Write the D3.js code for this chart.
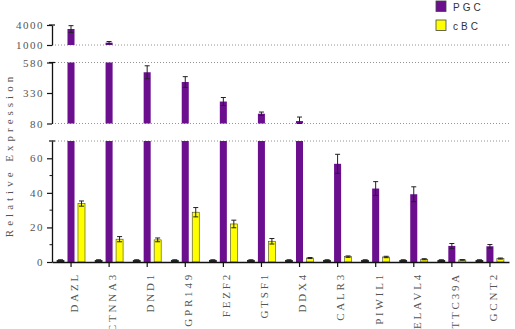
<!DOCTYPE html>
<html>
<head>
<meta charset="utf-8">
<script src="https://cdnjs.cloudflare.com/ajax/libs/d3/7.8.5/d3.min.js"></script>
<style>
  body { margin: 0; background: #fff; }
  svg { display: block; }
  .serif text, text.serif { font-family: "Liberation Serif", "Times New Roman", Times, serif; }
</style>
</head>
<body>
<svg id="chart" width="515" height="329"></svg>
<script>
// данные
const genes = ["DAZL", "CTNNA3", "DND1", "GPR149", "FEZF2", "GTSF1",
               "DDX4", "CALR3", "PIWIL1", "ELAVL4", "TTC39A", "GCNT2"];
const ctrl    = [1, 1, 1, 1, 1, 1, 1, 1, 1, 1, 1, 1];
const ctrlErr = [0.3, 0.3, 0.3, 0.3, 0.3, 0.3, 0.3, 0.3, 0.3, 0.3, 0.3, 0.3];
const pgc     = [3400, 1350, 500, 420, 260, 160, 100, 56.8, 42.5, 39.2, 9.3, 9.1];
const pgcErr  = [500, 170, 53, 44, 33, 14, 33, 5.5, 4, 4.3, 1.4, 1.0];
const cbc     = [33.8, 13.2, 12.8, 28.8, 22, 12, 2.3, 3.1, 2.9, 1.6, 1.2, 2.0];
const cbcErr  = [1.5, 1.5, 1.1, 2.7, 2.2, 1.6, 0.3, 0.4, 0.4, 0.3, 0.2, 0.3];
const seriesNames = ["ctrl", "PGC", "cBC"];
const legendNames = ["PGC", "cBC"];
const minorTicks = [10, 30, 50];

const colors = { ctrl: "#1d3a2c", PGC: "#6c0f8f", cBC: "#ffff00" };
const serif = "Liberation Serif";

const svg = d3.select("svg#chart");
const axisX0 = 52, axisX1 = 509;

// три сегмента оси Y (разрывы)
const segments = [
    { domain: [0, 70],      range: [262, 141],   ticks: [0, 20, 40, 60] },
    { domain: [80, 580],    range: [123.5, 62.5], ticks: [80, 330, 580] },
    { domain: [1000, 4000], range: [45, 25],      ticks: [1000, 4000] }
];
segments.forEach(s => s.scale = d3.scaleLinear().domain(s.domain).range(s.range));

function segFor(v) {
    for (let s of segments) if (v <= s.domain[1]) return s;
    return segments[segments.length - 1];
}

const scX = d3.scaleBand().domain(genes).range([axisX0, axisX1]).padding(0);
const scSub = d3.scaleBand().domain(seriesNames).range([5, 33]).paddingInner(0.33);

// пунктирные линии на границах сегментов
const dashY = [segments[0].range[1], segments[1].range[0], segments[1].range[1], segments[2].range[0]];
svg.selectAll(".dash")
    .data(dashY)
    .enter()
    .append("line")
    .attr("x1", axisX0).attr("x2", axisX1)
    .attr("y1", d => d).attr("y2", d => d)
    .style("stroke", "#777")
    .style("stroke-width", 0.8)
    .style("stroke-dasharray", "1,2");

// данные для столбцов
const rows = [];
genes.forEach((g, i) => {
    rows.push({ gene: g, key: "ctrl", v: ctrl[i], e: ctrlErr[i] });
    rows.push({ gene: g, key: "PGC", v: pgc[i], e: pgcErr[i] });
    rows.push({ gene: g, key: "cBC", v: cbc[i], e: cbcErr[i] });
});

const barG = svg.append("g");
segments.forEach((s, si) => {
    const lo = s.domain[0];
    const base = si === 0 ? 0 : lo;
    barG.selectAll(null)
        .data(rows.filter(d => d.v > lo || (si === 0 && d.v > 0)))
        .enter()
        .append("rect")
        .attr("x", d => scX(d.gene) + scSub(d.key))
        .attr("width", scSub.bandwidth())
        .attr("y", d => s.scale(Math.min(d.v, s.domain[1])))
        .attr("height", d => s.scale(base) - s.scale(Math.min(d.v, s.domain[1])))
        .style("fill", d => colors[d.key])
        .style("stroke", d => d.key === "cBC" ? "#444" : (d.key === "ctrl" ? "#111" : "none"))
        .style("stroke-width", 0.6);
});

// планки погрешностей
const errG = svg.append("g").style("stroke", "#222").style("stroke-width", 1);
rows.forEach(d => {
    const s = segFor(d.v);
    const cx = scX(d.gene) + scSub(d.key) + scSub.bandwidth() / 2;
    const y1 = s.scale(Math.min(d.v + d.e, s.domain[1] + (s.domain[1] - s.domain[0]) * 0.2));
    const y0 = s.scale(Math.max(d.v - d.e, s.domain[0]));
    const w = 2.5;
    errG.append("line").attr("x1", cx).attr("x2", cx).attr("y1", y0).attr("y2", y1);
    errG.append("line").attr("x1", cx - w).attr("x2", cx + w).attr("y1", y1).attr("y2", y1);
    errG.append("line").attr("x1", cx - w).attr("x2", cx + w).attr("y1", y0).attr("y2", y0);
});

// оси Y по сегментам
segments.forEach((s, si) => {
    const g = svg.append("g")
        .attr("class", "serif")
        .attr("transform", `translate(${axisX0},0)`)
        .call(d3.axisLeft(s.scale).tickValues(s.ticks).tickSize(5).tickSizeOuter(0)
              .tickFormat(d3.format("d")));
    g.attr("font-family", serif).attr("font-size", 11);
    g.select(".domain").style("stroke", "#111").style("stroke-width", 1.3);
    g.selectAll(".tick line").style("stroke", "#111").style("stroke-width", 1.2);
    g.selectAll(".tick text")
        .attr("x", -8)
        .style("letter-spacing", "1.5px")
        .style("fill", "#555");
    // короткая засечка на верхнем конце сегмента
    g.append("line")
        .attr("x1", -3).attr("x2", 3)
        .attr("y1", s.range[1]).attr("y2", s.range[1])
        .style("stroke", "#111").style("stroke-width", 1.2);
    if (si === 0) {
        // мелкие засечки
        g.selectAll(".minor")
            .data(minorTicks)
            .enter()
            .append("line")
            .attr("x1", -2.5).attr("x2", 0)
            .attr("y1", d => s.scale(d)).attr("y2", d => s.scale(d))
            .style("stroke", "#111").style("stroke-width", 1);
    }
});

// ось X
const gx = svg.append("g")
    .attr("class", "serif")
    .attr("transform", `translate(0,${segments[0].range[0]})`)
    .call(d3.axisBottom(scX).tickSize(5).tickSizeOuter(0));
gx.attr("font-family", serif).attr("font-size", 11);
gx.select(".domain").style("stroke", "#111").style("stroke-width", 1.4);
gx.selectAll(".tick line").style("stroke", "#111").style("stroke-width", 1.2);
gx.selectAll(".tick text")
    .attr("transform", "rotate(-90)")
    .attr("x", -10)
    .attr("y", 3)
    .attr("dy", "0.35em")
    .style("text-anchor", "end")
    .style("letter-spacing", "2.8px")
    .style("fill", "#555");

// подпись оси Y
svg.append("text")
    .attr("class", "serif")
    .attr("transform", "translate(9,155) rotate(-90)")
    .attr("text-anchor", "middle")
    .attr("dy", "0.35em")
    .style("font-size", "11px")
    .style("letter-spacing", "4px")
    .style("fill", "#555")
    .text("Relative Expression");

// легенда
const leg = svg.append("g").attr("transform", "translate(436,1)");
leg.selectAll("rect")
    .data(legendNames)
    .enter()
    .append("rect")
    .attr("x", 0)
    .attr("y", (d, i) => i * 19)
    .attr("width", 10)
    .attr("height", 10.5)
    .style("fill", d => colors[d])
    .style("stroke", "#444")
    .style("stroke-width", 0.8);
leg.selectAll("text")
    .data(legendNames)
    .enter()
    .append("text")
    .attr("x", 17)
    .attr("y", (d, i) => i * 19 + 6.5)
    .attr("dy", "0.35em")
    .style("font-family", "'Liberation Sans', Arial, sans-serif")
    .style("font-size", "10px")
    .style("letter-spacing", "3px")
    .style("fill", "#333")
    .text(d => d);
</script>
</body>
</html>
